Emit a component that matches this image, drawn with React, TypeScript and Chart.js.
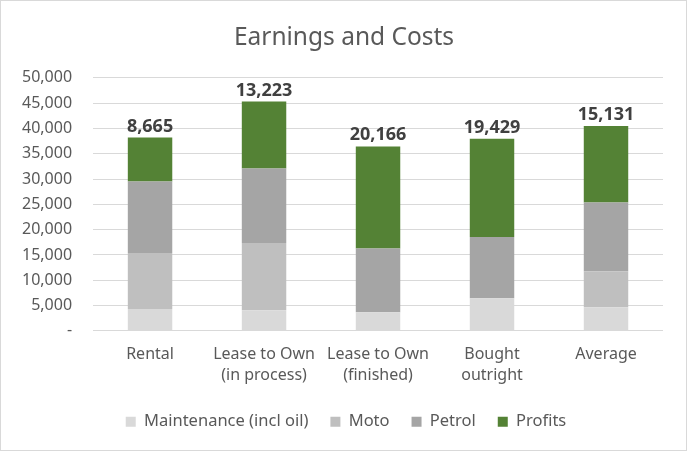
import { useRef, useEffect } from "react";
import Chart from "chart.js/auto";

const categories = [
  "Rental",
  ["Lease to Own", "(in process)"],
  ["Lease to Own", "(finished)"],
  ["Bought", "outright"],
  "Average",
];
const seriesNames = ["Maintenance (incl oil)", "Moto", "Petrol", "Profits"];
const maintenance = [4340, 4080, 3700, 6450, 4680];
const moto = [11050, 13280, 0, 0, 7100];
const petrol = [14150, 14740, 12600, 12100, 13600];
const profits = [8665, 13223, 20166, 19429, 15131];
const colors = ["#d9d9d9", "#bfbfbf", "#a5a5a5", "#548235"];

const FONT = "'Noto Sans', sans-serif";

const profitLabels = {
  id: "profitLabels",
  afterDatasetsDraw(chart: any) {
    const ctx = chart.ctx;
    const meta = chart.getDatasetMeta(3);
    ctx.save();
    ctx.font = `bold 18px ${FONT}`;
    ctx.fillStyle = "#404040";
    ctx.textAlign = "center";
    ctx.textBaseline = "alphabetic";
    meta.data.forEach((bar: any, i: number) => {
      ctx.fillText(profits[i].toLocaleString("en-US"), bar.x, bar.y - 6);
    });
    ctx.restore();
  },
};

// title and legend are centred on the whole chart, not on the space left of the right padding
const centreBoxes = {
  id: "centreBoxes",
  afterUpdate(chart: any) {
    const shift = (box: any, dx: number) => {
      if (!box) return;
      box.left += dx;
      box.right += dx;
    };
    shift(chart.titleBlock, 12);
    shift(chart.legend, 14);
  },
};

const App = () => {
  const chartRef = useRef<HTMLCanvasElement>(null);

  useEffect(() => {
    document.body.style.margin = "0";
    const series = [maintenance, moto, petrol, profits];
    const myChart = new Chart(chartRef.current!, {
      type: "bar",
      data: {
        labels: categories as any,
        datasets: series.map((values, i) => ({
          label: seriesNames[i],
          data: values,
          backgroundColor: colors[i],
          barPercentage: 0.39,
          categoryPercentage: 1,
        })),
      },
      options: {
        animation: false,
        responsive: true,
        maintainAspectRatio: false,
        layout: { padding: { left: 0, right: 23, top: 0, bottom: 10 } },
        plugins: {
          title: {
            display: true,
            text: "Earnings and Costs",
            color: "#595959",
            font: { family: FONT, size: 24.5, weight: "normal" },
            padding: { top: 22, bottom: 25.5 },
          },
          legend: {
            position: "bottom",
            labels: {
              boxWidth: 10,
              boxHeight: 10,
              color: "#595959",
              font: { family: FONT, size: 16.5 },
              padding: 22,
            },
          },
          tooltip: { enabled: false },
        },
        scales: {
          x: {
            stacked: true,
            grid: { display: false },
            border: { display: false },
            ticks: {
              color: "#595959",
              font: { family: FONT, size: 16, lineHeight: 1.3 },
              maxRotation: 0,
              padding: 5.5,
            },
          },
          y: {
            stacked: true,
            min: 0,
            max: 50000,
            grid: { color: "#d9d9d9", lineWidth: 1, drawTicks: false },
            border: { display: false },
            ticks: {
              stepSize: 5000,
              color: "#595959",
              font: { family: FONT, size: 16 },
              padding: 21,
              callback: (v: any) => (v === 0 ? "-" : Number(v).toLocaleString("en-US")),
            },
          },
        },
      },
      plugins: [profitLabels, centreBoxes],
    });

    return () => myChart.destroy();
  }, []);

  return (
    <div
      style={{
        width: 687,
        height: 451,
        boxSizing: "border-box",
        border: "1px solid #d9d9d9",
        background: "#fff",
      }}
    >
      <canvas ref={chartRef}></canvas>
    </div>
  );
};

export default App;
